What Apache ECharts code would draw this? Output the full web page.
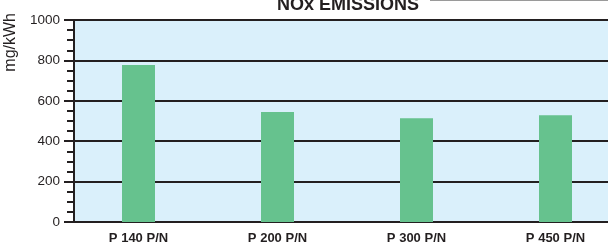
<!DOCTYPE html>
<html lang="en">
<head>
    <meta charset="UTF-8">
    <title>NOx EMISSIONS</title>
    <script src="https://cdn.jsdelivr.net/npm/echarts@6.0.0/dist/echarts.min.js"></script>
    <style>
        html, body { margin: 0; padding: 0; background: #fff; }
    </style>
</head>
<body>
<div id="chart" style="width: 608px; height: 245px;"></div>
<script>
    // data
    const models = ['P 140 P/N', 'P 200 P/N', 'P 300 P/N', 'P 450 P/N'];
    const noxValues = [777, 544, 514, 529];
    const yTicks = [0, 200, 400, 600, 800, 1000];

    const font = '"Liberation Sans", Arial, sans-serif';
    const dark = '#231f20';

    const myChart = echarts.init(document.getElementById('chart'));
    const option = {
        animation: false,
        title: {
            text: 'NOx EMISSIONS',
            left: 343,
            top: -9,
            textAlign: 'center',
            textStyle: { fontFamily: font, fontWeight: 'bold', fontSize: 18, color: dark }
        },
        grid: [
            // background only
            { left: 74, right: 0, top: 20, bottom: 23, show: true, backgroundColor: '#daf0fb', borderWidth: 0, outerBoundsMode: 'none' },
            // the real plot, wider than the canvas so the bars sit where they do in the reference
            { left: 69, width: 556, top: 20, bottom: 23, outerBoundsMode: 'none', containLabel: false }
        ],
        graphic: [
            {
                type: 'line',
                shape: { x1: 430, y1: 0.5, x2: 608, y2: 0.5 },
                style: { stroke: '#9a9a9a', lineWidth: 1 }
            },
            {
                type: 'text',
                left: 3,
                top: 13,
                rotation: Math.PI / 2,
                style: { text: 'mg/kWh', font: '16px ' + font, fill: dark }
            }
        ],
        xAxis: [
            { gridIndex: 0, type: 'value', show: false, min: 0, max: 1 },
            {
                gridIndex: 1,
                type: 'category',
                data: models,
                axisLine: { lineStyle: { color: dark, width: 2 } },
                axisTick: { show: false },
                axisLabel: {
                    fontFamily: font, fontWeight: 'bold', fontSize: 13, color: dark, margin: 10
                }
            }
        ],
        yAxis: [
            { gridIndex: 0, type: 'value', show: false, min: 0, max: 1 },
            {
                gridIndex: 1,
                type: 'value',
                min: yTicks[0],
                max: yTicks[yTicks.length - 1],
                interval: 200,
                offset: -5,
                axisLine: { show: true, lineStyle: { color: dark, width: 2 } },
                axisTick: { show: true, length: 10, lineStyle: { color: dark, width: 2 } },
                minorTick: { show: true, splitNumber: 4, length: 7, lineStyle: { color: dark, width: 2 } },
                axisLabel: {
                    fontFamily: font, fontSize: 13.5, color: dark, margin: 14,
                    formatter: v => String(v)
                },
                splitLine: { show: true, lineStyle: { color: dark, width: 2 } }
            }
        ],
        series: [
            {
                name: 'NOx',
                type: 'bar',
                xAxisIndex: 1,
                yAxisIndex: 1,
                barWidth: 33,
                itemStyle: { color: '#66c28e' },
                data: noxValues
            }
        ]
    };
    myChart.setOption(option);
</script>
</body>
</html>
